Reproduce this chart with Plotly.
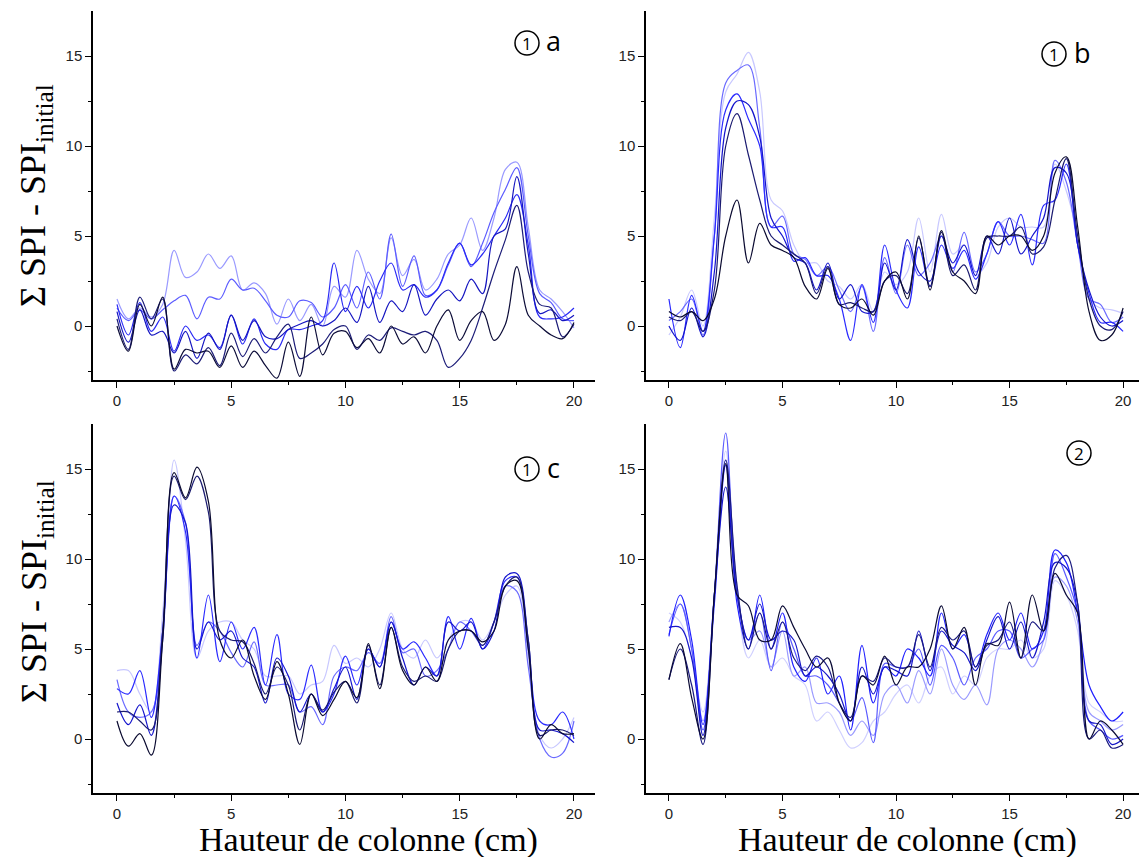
import plotly.graph_objects as go

# ---------------- data ----------------
x_cm = [i * 0.5 for i in range(41)]  # Hauteur de colonne (cm), 0..20

tick_x = [0, 5, 10, 15, 20]
tick_y = [0, 5, 10, 15]

# Panel 1a (lightest -> darkest)
a_1 = [1.5, 0.4, 1.0, 0.5, 1.2, 4.2, 2.7, 3.0, 4.0, 3.2, 3.9, 2.0, 2.4, 1.8, 0.1, 1.5, 0.3, 1.2, 0.0, 2.2,
       1.6, 4.2, 2.6, 1.8, 4.9, 2.8, 3.7, 2.0, 2.6, 4.0, 4.5, 6.0, 4.2, 6.0, 8.7, 9.1, 5.5, 2.0, 1.5, 0.8, -0.1]
a_2 = [1.0, 0.3, 0.9, 0.4, 0.9, 1.4, 1.7, 0.4, 1.6, 1.5, 2.6, 2.0, 2.1, 1.4, 0.6, 0.5, 1.4, 1.3, 0.5, 1.0,
       2.3, 1.0, 3.0, 1.5, 5.1, 2.2, 3.9, 1.7, 2.0, 3.4, 4.6, 3.3, 4.6, 6.3, 7.6, 8.8, 5.0, 1.8, 1.3, 0.4, 0.3]
a_3 = [1.2, -0.5, 1.3, -0.3, 0.5, -1.4, 0.0, -0.8, -0.5, -1.2, 0.6, -1.0, 0.4, -1.0, -1.3, -0.2, -0.2, 0.0, 0.3, 3.5,
       0.8, 2.2, 1.0, 2.5, 3.5, 2.0, 2.3, 1.6, 2.0, 3.5, 4.6, 3.4, 4.0, 5.0, 6.0, 7.3, 4.5, 0.5, 0.4, 0.5, 1.0]
a_4 = [0.8, -0.9, 0.9, -0.5, -0.3, -1.5, -0.3, -1.8, -0.4, -1.3, 0.6, -0.8, 0.3, -0.6, -0.7, -0.2, 0.1, 0.3, 0.0, 0.3,
       1.0, 0.2, 2.2, 0.2, 1.4, 0.8, 2.3, 0.6, 1.5, 2.0, 1.4, 2.6, 1.8, 5.0, 5.4, 8.3, 4.0, 0.7, 0.9, 0.3, 0.6]
a_5 = [0.4, -1.3, 1.6, 0.4, 1.5, -2.5, -1.6, -2.1, -1.2, -2.2, -0.4, -1.7, -0.7, -1.5, -0.6, 0.1, -1.8, -1.5, -1.0, -0.2,
       0.0, -1.3, -0.5, -0.8, -0.1, -0.3, -0.5, -0.3, -0.8, -2.3, -1.8, -0.8, 1.0, 3.0, 4.8, 6.7, 3.0, 1.2, 1.0, -0.6, 0.1]
a_6 = [0.0, -1.4, 1.2, 0.0, 1.6, -2.4, -1.3, -1.5, -1.4, -2.3, -1.1, -2.3, -1.4, -2.2, -2.9, -0.9, -2.8, 0.5, -1.6, -0.4,
       -0.3, -1.2, -0.7, -1.5, 0.0, -1.0, -0.6, -1.5, 0.0, 0.9, -0.8, 0.3, 0.8, -0.8, 0.1, 3.3, 0.6, 0.0, -0.5, -0.7, 0.2]

# Panel 1b
b_1 = [-0.5, 0.5, 2.0, 0.0, 6.0, 13.0, 14.0, 15.2, 13.0, 7.0, 6.4, 4.5, 3.5, 3.5, 2.5, 2.2, 1.5, 2.3, 0.8, 3.0,
       2.3, 3.0, 6.0, 3.0, 6.2, 4.0, 4.5, 2.8, 3.5, 5.5, 6.0, 5.5, 5.5, 5.5, 9.0, 7.5, 5.0, 1.5, 1.0, 0.9, 0.7]
b_2 = [0.3, 0.8, 1.5, -0.5, 5.0, 13.5, 14.2, 14.5, 11.0, 5.5, 6.1, 4.0, 3.7, 2.8, 3.3, 2.0, 0.8, 2.2, -0.3, 3.8,
       1.8, 4.5, 2.8, 3.5, 5.0, 3.0, 5.2, 3.0, 4.0, 5.8, 5.0, 5.0, 4.8, 4.6, 9.2, 8.0, 4.5, 1.5, 1.2, 0.2, 0.5]
b_3 = [1.5, -1.2, 1.7, -0.3, 5.0, 12.0, 12.9, 11.5, 10.0, 5.5, 5.5, 3.6, 3.8, 2.8, 2.8, 1.5, -0.8, 2.3, 0.2, 4.5,
       2.0, 1.0, 4.4, 2.2, 4.5, 3.2, 4.2, 2.6, 4.0, 5.8, 4.5, 6.2, 3.4, 6.7, 7.0, 9.0, 4.5, 1.8, 0.2, 0.2, -0.3]
b_4 = [0.0, -0.8, 1.0, -0.6, 3.0, 11.0, 12.5, 12.3, 10.5, 6.0, 5.0, 3.8, 3.5, 2.0, 3.5, 1.5, 2.3, 0.8, 0.8, 3.5,
       2.0, 4.8, 3.0, 2.5, 5.0, 3.5, 4.5, 2.8, 5.0, 4.0, 6.0, 4.0, 5.0, 6.0, 8.8, 8.5, 4.5, 2.0, 0.5, 0.0, 0.3]
b_5 = [0.5, 0.3, 0.8, -0.3, 2.0, 10.0, 11.8, 9.5, 7.0, 5.0, 4.5, 4.0, 3.5, 1.8, 3.3, 1.2, 1.3, 1.0, 0.8, 2.5,
       2.8, 1.8, 4.9, 2.2, 5.2, 2.8, 3.4, 2.0, 4.9, 5.0, 5.0, 5.5, 4.0, 4.4, 7.0, 9.3, 5.0, 1.5, 0.0, -0.2, 0.8]
b_6 = [0.8, 0.5, 0.8, 0.3, 1.5, 5.0, 7.0, 3.5, 5.7, 4.5, 4.2, 3.8, 2.2, 1.5, 3.2, 1.2, 1.0, 1.5, 0.6, 2.5,
       3.0, 1.5, 5.0, 2.0, 5.3, 3.0, 2.5, 1.8, 5.0, 4.5, 5.0, 5.0, 4.2, 5.0, 8.5, 9.4, 5.5, 0.8, -0.8, -0.5, 1.0]

# Panel 1c
c_1 = [3.8, 3.8, 2.5, 1.5, 7.0, 15.5, 11.0, 4.5, 6.0, 6.5, 6.5, 5.5, 5.0, 3.5, 3.5, 3.5, 2.5, 3.0, 3.2, 5.2,
       4.2, 4.5, 4.0, 5.0, 7.0, 5.0, 4.5, 5.5, 4.5, 5.5, 6.5, 6.5, 5.5, 6.5, 8.0, 8.5, 4.5, 0.2, -0.5, 0.0, 1.2]
c_2 = [3.3, 1.5, 1.2, 1.5, 6.0, 13.5, 12.0, 5.2, 6.5, 6.0, 4.8, 4.0, 5.4, 3.0, 3.0, 3.0, 1.5, 1.8, 0.8, 3.5,
       4.0, 3.8, 4.8, 4.2, 6.8, 4.8, 5.0, 3.5, 3.8, 5.0, 6.5, 6.0, 5.2, 6.5, 8.5, 8.2, 4.0, 0.0, -1.0, -0.8, 1.0]
c_3 = [2.8, 2.5, 3.8, 1.2, 6.0, 13.5, 11.5, 4.5, 8.0, 4.3, 6.5, 5.0, 6.2, 3.0, 5.8, 2.5, 2.2, 4.1, 1.5, 2.5,
       4.6, 3.0, 5.0, 4.0, 6.5, 5.0, 5.4, 4.5, 3.5, 6.8, 5.0, 6.7, 5.0, 6.5, 8.8, 9.0, 5.0, 1.0, 0.8, 1.5, 0.0]
c_4 = [2.0, 0.8, 1.9, 0.2, 5.5, 13.0, 12.0, 5.0, 6.5, 5.5, 6.0, 4.5, 4.0, 2.0, 4.5, 3.5, 1.5, 2.5, 1.5, 2.8,
       4.0, 2.2, 5.0, 4.0, 6.5, 4.5, 3.0, 4.0, 3.5, 6.5, 6.0, 6.5, 5.0, 6.0, 9.0, 9.2, 5.5, 0.5, 0.5, 0.3, -0.2]
c_5 = [1.5, 1.5, 1.0, 0.5, 6.0, 14.6, 13.3, 14.6, 12.6, 6.0, 5.5, 5.4, 4.2, 2.5, 4.0, 3.0, 0.5, 2.5, 1.6, 2.6,
       3.2, 2.0, 5.2, 3.0, 6.2, 4.0, 3.2, 3.5, 3.2, 5.0, 6.0, 6.0, 5.2, 6.5, 8.5, 9.0, 5.5, 0.2, 0.5, 0.5, 0.2]
c_6 = [1.0, -0.4, 0.3, -0.9, 5.5, 14.8, 13.4, 15.1, 13.2, 5.5, 4.5, 5.5, 3.5, 2.2, 4.3, 2.5, -0.3, 2.5, 1.3, 2.2,
       3.2, 2.3, 5.3, 2.8, 6.2, 3.8, 3.0, 4.0, 3.2, 5.5, 6.0, 6.0, 5.4, 6.0, 8.5, 8.8, 5.0, 0.0, 0.8, 0.3, 0.3]

# Panel 2
d_1 = [7.0, 6.5, 4.5, 1.5, 8.0, 16.0, 8.0, 4.5, 5.5, 4.0, 4.5, 3.5, 3.0, 1.0, 1.5, 0.5, -0.5, -0.2, 1.0, 1.5,
       2.5, 3.0, 2.0, 3.5, 4.0, 2.5, 3.5, 3.0, 4.5, 5.0, 5.0, 5.5, 4.5, 5.0, 8.8, 8.0, 6.0, 2.0, 1.5, 1.0, 1.0]
d_2 = [6.5, 7.5, 5.0, 1.0, 8.0, 15.5, 8.5, 5.5, 6.0, 4.0, 6.0, 3.5, 4.0, 2.0, 2.0, 1.5, 0.2, 1.0, 0.2, 2.5,
       3.0, 2.0, 3.8, 2.5, 5.0, 3.0, 2.2, 3.0, 1.9, 5.0, 5.5, 5.0, 4.0, 5.5, 9.0, 8.5, 6.5, 1.5, 1.0, 0.5, 0.8]
d_3 = [5.8, 7.5, 5.0, 0.5, 8.0, 17.0, 8.0, 5.5, 7.0, 3.8, 6.5, 5.0, 3.5, 3.5, 3.0, 2.0, 1.0, 2.3, -0.2, 4.2,
       4.0, 4.0, 5.0, 3.0, 5.2, 4.5, 3.0, 4.5, 5.0, 6.0, 6.0, 4.5, 5.0, 5.5, 10.3, 9.0, 7.0, 1.0, 0.5, 0.0, 0.2]
d_4 = [5.7, 8.0, 5.5, 0.8, 7.5, 15.2, 7.5, 5.0, 8.0, 5.0, 7.0, 4.0, 3.2, 4.5, 2.5, 3.5, 0.5, 5.2, 2.0, 4.0,
       3.5, 5.0, 4.5, 3.5, 7.0, 5.0, 5.8, 4.0, 5.8, 7.0, 5.5, 7.0, 5.0, 6.0, 10.5, 9.8, 7.0, 3.0, 1.8, 1.0, 1.5]
d_5 = [6.2, 6.2, 4.5, 0.2, 8.0, 14.0, 8.0, 5.5, 7.5, 5.5, 6.0, 5.5, 3.5, 4.0, 3.5, 2.5, 1.0, 4.0, 2.5, 4.0,
       3.8, 3.5, 6.0, 3.8, 6.0, 5.2, 4.8, 3.8, 5.5, 6.8, 5.0, 6.5, 4.5, 6.5, 9.8, 9.5, 7.5, 1.0, 0.8, -0.3, 0.0]
d_6 = [3.3, 5.0, 3.0, -0.3, 8.0, 15.5, 8.5, 5.0, 7.0, 5.0, 6.5, 4.5, 3.8, 4.6, 4.0, 2.0, 1.2, 3.5, 3.2, 4.5,
       4.0, 4.0, 5.8, 4.0, 6.2, 5.5, 6.0, 4.0, 5.2, 5.5, 6.5, 4.5, 6.5, 6.0, 9.5, 10.2, 7.5, 0.0, 0.5, -0.5, -0.3]
d_7 = [3.3, 5.3, 2.3, 0.0, 8.0, 15.3, 8.0, 7.4, 5.5, 5.5, 7.4, 6.2, 5.0, 4.0, 4.5, 2.0, 1.0, 3.5, 3.0, 4.6,
       3.0, 4.0, 4.0, 5.0, 7.4, 5.0, 6.2, 3.0, 5.3, 5.2, 7.6, 4.5, 8.0, 6.0, 9.2, 8.0, 7.0, 0.0, 1.0, 0.5, -0.3]

panel_a = [a_1, a_2, a_3, a_4, a_5, a_6]
panel_b = [b_1, b_2, b_3, b_4, b_5, b_6]
panel_c = [c_1, c_2, c_3, c_4, c_5, c_6]
panel_d = [d_1, d_2, d_3, d_4, d_5, d_6, d_7]

colors6 = ["#9a9aff", "#5c5cff", "#2a2af5", "#1515c0", "#1c1c78", "#0c0c38"]
colors6b = ["#c8c8ff", "#6a6aff", "#2a2aff", "#1414cc", "#1a1a70", "#0a0a30"]
colors7 = ["#d0d0ff", "#9a9aff", "#5a5aff", "#2020ff", "#1515c8", "#1a1a80", "#0a0a35"]

W, H = 1140, 857


def px2x(p):
    return p / W


def py2y(p):
    return 1 - p / H


fig = go.Figure()

panels = [
    (panel_a, colors6, "x", "y"),
    (panel_b, colors6b, "x2", "y2"),
    (panel_c, colors6b, "x3", "y3"),
    (panel_d, colors7, "x4", "y4"),
]
for series, cols, xa, ya in panels:
    for s, c in zip(series, cols):
        fig.add_trace(go.Scatter(
            x=x_cm, y=s, mode="lines", line=dict(color=c, width=1.2, shape="spline", smoothing=1.0),
            xaxis=xa, yaxis=ya, showlegend=False, hoverinfo="skip"))

tickfont = dict(family="Liberation Sans, Arial, sans-serif", size=15, color="#222")


def xax(dom, rng, anchor):
    return dict(domain=dom, range=rng, anchor=anchor, showline=True, linecolor="black", linewidth=1.5,
                ticks="outside", ticklen=6, tickwidth=1.3, tickcolor="black", tickvals=tick_x,
                minor=dict(tickvals=[2.5, 7.5, 12.5, 17.5], ticklen=3, ticks="outside", tickcolor="black",
                           tickwidth=1.2),
                showgrid=False, zeroline=False, tickfont=tickfont, fixedrange=True)


def yax(dom, anchor):
    return dict(domain=dom, range=[-3.0, 17.5], anchor=anchor, showline=True, linecolor="black",
                linewidth=1.5, ticks="outside", ticklen=6, tickwidth=1.3, tickcolor="black",
                tickvals=tick_y,
                minor=dict(tickvals=[-2.5, 2.5, 7.5, 12.5], ticklen=3, ticks="outside", tickcolor="black",
                           tickwidth=1.2),
                showgrid=False, zeroline=False, tickfont=tickfont, fixedrange=True)


left_dom = [px2x(93), px2x(595)]
right_dom = [px2x(646), px2x(1139)]
top_dom = [py2y(380), py2y(11)]
bot_dom = [py2y(793), py2y(424)]

fig.update_layout(
    width=W, height=H, margin=dict(l=0, r=0, t=0, b=0),
    paper_bgcolor="white", plot_bgcolor="white",
    xaxis=xax(left_dom, [-1.05, 20.92], "y"),
    yaxis=yax(top_dom, "x"),
    xaxis2=xax(right_dom, [-1.01, 20.7], "y2"),
    yaxis2=yax(top_dom, "x2"),
    xaxis3=xax(left_dom, [-1.05, 20.92], "y3"),
    yaxis3=yax(bot_dom, "x3"),
    xaxis4=xax(right_dom, [-1.01, 20.7], "y4"),
    yaxis4=yax(bot_dom, "x4"),
)

serif = "Liberation Serif, Times New Roman, serif"
ann = []
ytitle = "Σ SPI - SPI<sub>initial</sub>"
for cy in (196, 592):
    ann.append(dict(text=ytitle, x=px2x(36), y=py2y(cy), xref="paper", yref="paper", showarrow=False,
                    textangle=-90, font=dict(family=serif, size=36, color="black"),
                    xanchor="center", yanchor="middle"))
xtitle = "Hauteur de colonne (cm)"
for cx in (368, 907):
    ann.append(dict(text=xtitle, x=px2x(cx), y=0, xref="paper", yref="paper", showarrow=False,
                    font=dict(family=serif, size=34, color="black"), xanchor="center", yanchor="bottom",
                    borderpad=0, yshift=-3))

# panel labels: circled numbers + letters
labels = [((527, 43), "1", (553, 43), "a"), ((1054, 54), "1", (1082, 54), "b"),
          ((527, 469), "1", (553, 469), "c"), ((1079, 453), "2", None, None)]
shapes = []
for (cx, cy), num, lpos, letter in labels:
    r = 12
    shapes.append(dict(type="circle", xref="paper", yref="paper", x0=px2x(cx - r), x1=px2x(cx + r),
                       y0=py2y(cy + r), y1=py2y(cy - r), line=dict(color="black", width=1.5)))
    ann.append(dict(text=num, x=px2x(cx), y=py2y(cy), xref="paper", yref="paper", showarrow=False,
                    font=dict(family="Open Sans, sans-serif", size=17, color="black"),
                    xanchor="center", yanchor="middle"))
    if letter:
        ann.append(dict(text=letter, x=px2x(lpos[0]), y=py2y(lpos[1] - 2), xref="paper", yref="paper",
                        showarrow=False, font=dict(family="Open Sans, sans-serif", size=27, color="black"),
                        xanchor="center", yanchor="middle"))

fig.update_layout(annotations=ann, shapes=shapes)
fig.write_html("out.html", config={"displayModeBar": False},
               post_script="document.body.style.margin='0px';")
